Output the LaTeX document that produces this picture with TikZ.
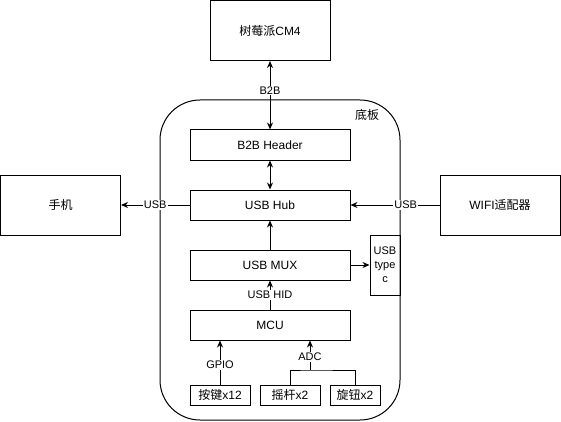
\documentclass[tikz,border=0pt]{standalone}
\usepackage{fontspec}
\setmainfont{Liberation Sans}
\newfontfamily\cjk{Noto Sans CJK SC}
\usetikzlibrary{arrows.meta}
\tikzset{
  blk/.style={draw, line width=1pt, inner sep=0pt, font=\fontsize{12}{14}\selectfont},
  lbl/.style={fill=white, inner sep=1pt, font=\fontsize{11}{13}\selectfont},
  >={Stealth[length=7pt,width=6pt]}
}

\begin{document}
\begin{tikzpicture}[x=1pt, y=-1pt, line width=1pt]
      \useasboundingbox (0,0) rectangle (561,422);

      \node[blk, minimum width=240, minimum height=320, rounded corners=40pt] (board) at (280,260) {};
      \node[font=\fontsize{12}{14}\selectfont] (boardname) at (367,115) {\cjk 底板};

      \node[blk, minimum width=120, minimum height=60] (cm4) at (270,30.5) {{\cjk 树莓派}CM4};
      \node[blk, minimum width=160, minimum height=30] (hdr) at (270,145) {B2B Header};
      \node[blk, minimum width=160, minimum height=30] (hub) at (270,205) {USB Hub};
      \node[blk, minimum width=160, minimum height=30] (mux) at (270,265) {USB MUX};
      \node[blk, minimum width=160, minimum height=30] (mcu) at (270,325) {MCU};
      \node[blk, minimum width=30, minimum height=60, align=center, font=\fontsize{11}{14}\selectfont] (typec) at (385,265) {USB\\type\\c};

      \node[blk, minimum width=120, minimum height=60] (phone) at (60.5,205) {\cjk 手机};
      \node[blk, minimum width=120, minimum height=60] (wifi) at (500,205) {WIFI{\cjk 适配器}};

      \node[blk, minimum width=60, minimum height=20] (keys) at (220,395) {{\cjk 按键}x12};
      \node[blk, minimum width=60, minimum height=20] (stick) at (290,395) {{\cjk 摇杆}x2};
      \node[blk, minimum width=50, minimum height=20] (knob) at (355,395) {{\cjk 旋钮}x2};

      \coordinate (adc) at (310,370);

      \draw[<->] (cm4) -- (hdr) node[lbl, pos=0.43] {B2B};
      \draw[<->] (hdr) -- (hub);
      \draw[->] (hub) -- (phone) node[lbl, midway] {USB};
      \draw[->] (wifi) -- (hub) node[lbl, pos=0.38] {USB};
      \draw[->] (mux) -- (hub);
      \draw[->] (mux) -- (typec);
      \draw[->] (mcu) -- (mux) node[lbl, midway] {USB HID};
      \draw[->] (keys) -- (mcu.south -| keys) node[lbl, pos=0.45] {GPIO};
      \draw (stick.north) |- (adc) -| (knob.north);
      \draw[->] (adc) -- (mcu.south -| adc) node[lbl, pos=0.45] {ADC};
\end{tikzpicture}
\end{document}
